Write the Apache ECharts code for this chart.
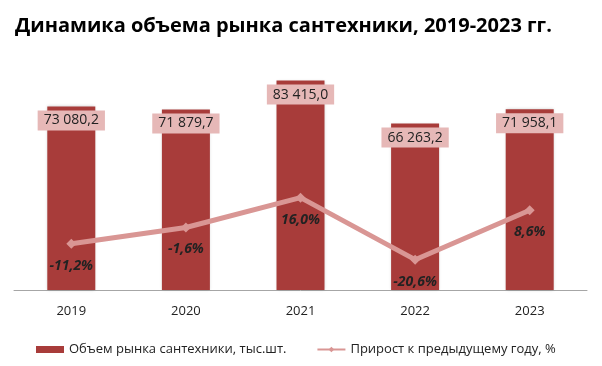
<!DOCTYPE html>
<html><head><meta charset="utf-8">
<script src="https://cdn.jsdelivr.net/npm/echarts@6/dist/echarts.min.js"></script>
<style>html,body{margin:0;padding:0;background:#fff}#c{width:602px;height:366px}</style>
</head><body><div id="c"></div>
<script>
var categories = ['2019', '2020', '2021', '2022', '2023'];
var marketVolume = [73080.2, 71879.7, 83415.0, 66263.2, 71958.1];
var growthPct = [-11.2, -1.6, 16.0, -20.6, 8.6];
var seriesNames = ['Объем рынка сантехники, тыс.шт.', 'Прирост к предыдущему году, %'];
var titleText = 'Динамика объема рынка сантехники, 2019-2023 гг.';

function fmtVol(v) {
  var s = v.toFixed(1).split('.');
  var i = s[0].replace(/\B(?=(\d{3})+(?!\d))/g, ' ');
  return i + ',' + s[1];
}
function fmtPct(v) { return v.toFixed(1).replace('.', ',') + '%'; }

var FONT = 'Open Sans';
var chart = echarts.init(document.getElementById('c'), null, {renderer: 'canvas'});
chart.setOption({
  animation: false,
  backgroundColor: '#ffffff',
  title: {
    text: titleText, left: 10, top: 11,
    textStyle: {fontFamily: FONT, fontWeight: 'bold', fontSize: 20, color: '#000'}
  },
  grid: {left: 14, right: 15, top: 64, bottom: 76},
  legend: {
    left: 31, top: 338, itemGap: 30,
    itemWidth: 28, itemHeight: 7,
    textStyle: {fontFamily: FONT, fontSize: 13, color: '#222'},
    data: [
      {name: seriesNames[0], icon: 'rect'},
      {name: seriesNames[1]}
    ]
  },
  xAxis: {
    type: 'category', data: categories,
    axisLine: {lineStyle: {color: '#a6a6a6', width: 1}},
    axisTick: {show: false},
    axisLabel: {fontFamily: FONT, fontSize: 13, color: '#222', margin: 15}
  },
  yAxis: [
    {type: 'value', min: 0, max: 90000, show: false, splitLine: {show: false}},
    {type: 'value', min: -38.5, max: 94.9, show: false, splitLine: {show: false}}
  ],
  series: [
    {
      name: seriesNames[0], type: 'bar', data: marketVolume, barWidth: 48,
      itemStyle: {color: '#A83C3A', shadowColor: 'rgba(0,0,0,0.18)', shadowBlur: 3},
      label: {
        show: true, position: 'insideTop', distance: 4,
        formatter: function (p) { return fmtVol(p.value); },
        backgroundColor: '#E6B8B7', padding: [3, 6, 3, 6],
        fontFamily: FONT, fontSize: 14, color: '#222'
      },
      z: 2
    },
    {
      name: seriesNames[1], type: 'line', yAxisIndex: 1, data: growthPct,
      lineStyle: {color: '#D99694', width: 5},
      itemStyle: {color: '#D99694'},
      symbol: 'diamond', symbolSize: 10,
      label: {
        show: true, position: 'bottom', distance: 10,
        formatter: function (p) { return fmtPct(p.value); },
        fontFamily: FONT, fontSize: 14, fontWeight: 'bold', fontStyle: 'italic', color: '#222'
      },
      z: 5
    }
  ]
});
</script></body></html>
